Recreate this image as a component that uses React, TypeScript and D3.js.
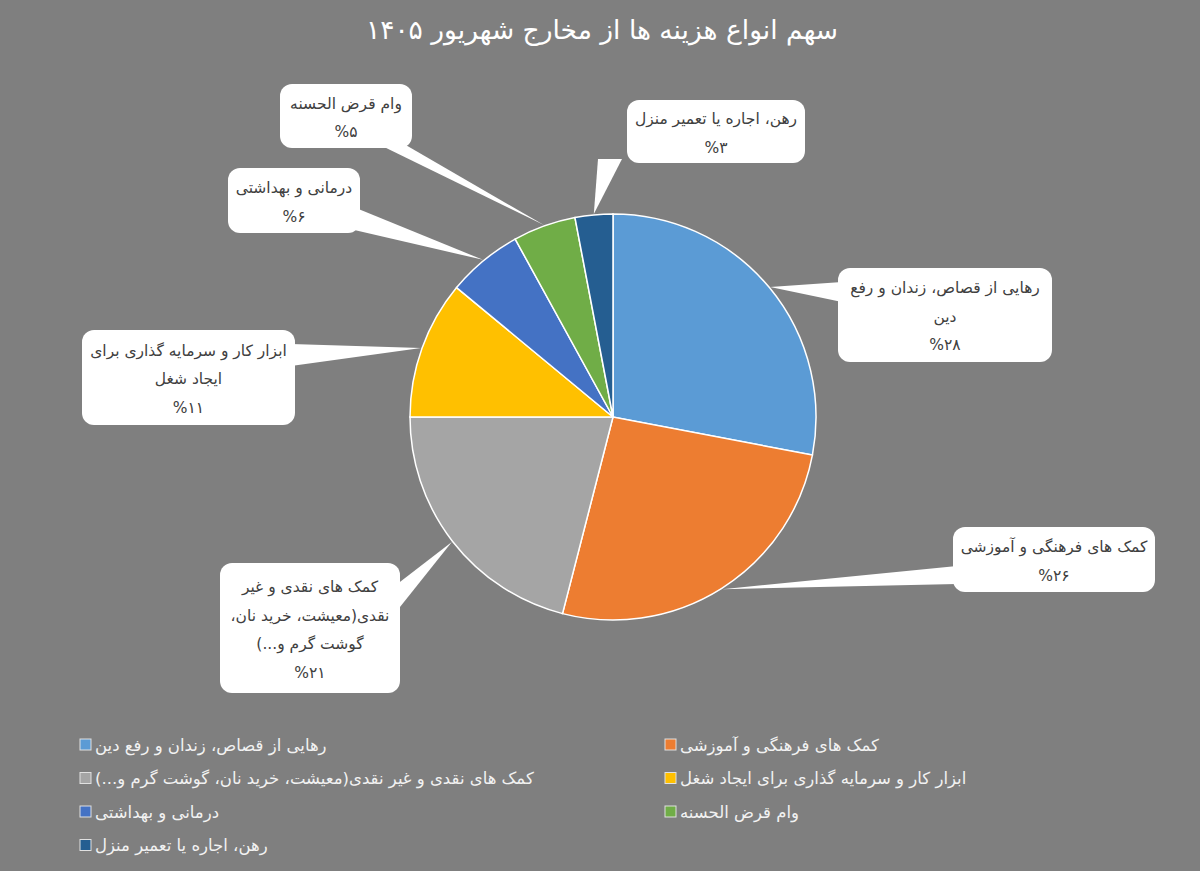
import React from "react";
import * as d3 from "d3";

const title = "سهم انواع هزینه ها از مخارج شهریور ۱۴۰۵";
const categories = [
  "رهایی از قصاص، زندان و رفع دین",
  "کمک های فرهنگی و آموزشی",
  "کمک های نقدی و غیر نقدی(معیشت، خرید نان، گوشت گرم و...)",
  "ابزار کار و سرمایه گذاری برای ایجاد شغل",
  "درمانی و بهداشتی",
  "وام قرض الحسنه",
  "رهن، اجاره یا تعمیر منزل",
];
const values = [28, 26, 21, 11, 6, 5, 3];
const labelLines = [
  ["رهایی از قصاص، زندان و رفع", "دین"],
  ["کمک های فرهنگی و آموزشی"],
  ["کمک های نقدی و غیر", "نقدی(معیشت، خرید نان،", "گوشت گرم و...)"],
  ["ابزار کار و سرمایه گذاری برای", "ایجاد شغل"],
  ["درمانی و بهداشتی"],
  ["وام قرض الحسنه"],
  ["رهن، اجاره یا تعمیر منزل"],
];
const colors = ["#5b9bd5", "#ed7d31", "#a5a5a5", "#ffc000", "#4472c4", "#70ad47", "#255e91"];

// layout of callout boxes: x, y, w, h, and pointer base (two points)
const boxes = [
  { x: 838, y: 268, w: 214, h: 94, b: [[842, 282], [842, 302]] },
  { x: 953, y: 527, w: 202, h: 65, b: [[957, 566], [957, 584]] },
  { x: 220, y: 563, w: 180, h: 130, b: [[396, 585], [396, 612]] },
  { x: 82, y: 330, w: 213, h: 95, b: [[291, 344], [291, 366]] },
  { x: 228, y: 168, w: 132, h: 65, b: [[356, 208], [350, 229]] },
  { x: 280, y: 84, w: 132, h: 64, b: [[378, 144], [404, 144]] },
  { x: 627, y: 100, w: 178, h: 63, b: [[598, 159], [622, 159]] },
];

const FONT = "'DejaVu Sans', sans-serif";
const toFa = (n: number) => String(n).replace(/\d/g, (d) => "۰۱۲۳۴۵۶۷۸۹"[+d]);

export default function App() {
  const W = 1200, H = 871;
  const cx = 613, cy = 417, r = 203;
  const pie = d3.pie<number>().sort(null).value((d) => d);
  const arcs = pie(values);
  const arc = d3.arc<d3.PieArcDatum<number>>().innerRadius(0).outerRadius(r);
  const lineH = 28.5;

  return (
    <svg width={W} height={H} style={{ position: "absolute", left: 0, top: 0, fontFamily: FONT }}>
      <rect x={0} y={0} width={W} height={H} fill="#7f7f7f" />
      <text x={602} y={39} textAnchor="middle" fill="#ffffff" fontSize={26.5} direction="rtl">
        {title}
      </text>
      <g transform={`translate(${cx},${cy})`}>
        {arcs.map((a, i) => (
          <path key={i} d={arc(a) || ""} fill={colors[i]} stroke="#ffffff" strokeWidth={1.5} />
        ))}
      </g>
      {arcs.map((a, i) => {
        const bx = boxes[i];
        const mid = (a.startAngle + a.endAngle) / 2;
        const tx = cx + Math.sin(mid) * (r + 1);
        const ty = cy - Math.cos(mid) * (r + 1);
        const lines = [...labelLines[i], "%" + toFa(values[i])];
        const total = lines.length * lineH;
        const y0 = bx.y + bx.h / 2 - total / 2 + lineH / 2;
        return (
          <g key={"c" + i}>
            <rect x={bx.x} y={bx.y} width={bx.w} height={bx.h} rx={12} fill="#ffffff" />
            <polygon
              points={`${tx},${ty} ${bx.b[0][0]},${bx.b[0][1]} ${bx.b[1][0]},${bx.b[1][1]}`}
              fill="#ffffff"
            />
            {lines.map((l, j) => (
              <text
                key={j}
                x={bx.x + bx.w / 2}
                y={y0 + j * lineH + 1.5}
                dy="0.35em"
                textAnchor="middle"
                fill="#404040"
                fontSize={15.5}
                direction={j === lines.length - 1 ? "ltr" : "rtl"}
              >
                {l}
              </text>
            ))}
          </g>
        );
      })}
      {categories.map((c, i) => {
        const col = i % 2;
        const row = Math.floor(i / 2);
        const mx = col === 0 ? 80 : 665;
        const my = 745 + row * 33.5;
        return (
          <g key={"l" + i}>
            <rect x={mx} y={my - 6} width={11} height={11} fill={colors[i]} stroke="#e0e0e0" strokeWidth={1} />
            <text x={mx + 15} y={my} dy="0.35em" fill="#f2f2f2" fontSize={16.5} direction="rtl" textAnchor="end">
              {c}
            </text>
          </g>
        );
      })}
    </svg>
  );
}
